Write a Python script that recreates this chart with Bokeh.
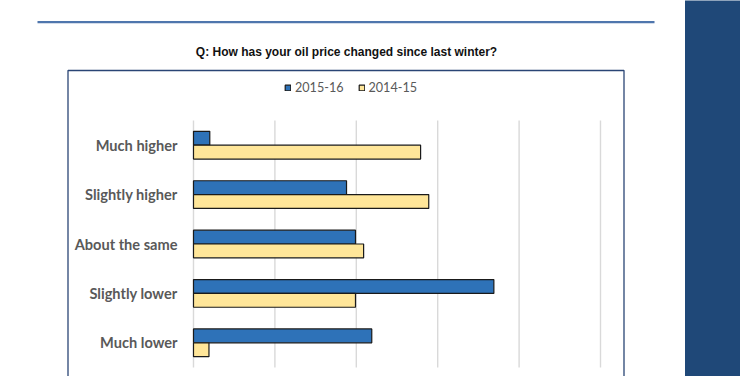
import numpy as np
from bokeh.plotting import figure
from bokeh.models import (Range1d, ColumnDataSource, Legend, LegendItem, Label, BoxAnnotation)
from bokeh.core.properties import value
from bokeh.embed import file_html
from bokeh.resources import INLINE

# ---- data ----
categories = ["Much higher", "Slightly higher", "About the same", "Slightly lower", "Much lower"]
series_2015_16 = [2.0, 18.8, 19.9, 36.9, 21.9]
series_2014_15 = [27.9, 28.9, 20.9, 19.9, 1.9]
grid_ticks = [0, 10, 20, 30, 40, 50]
series_names = ["2015-16", "2014-15"]
title_text = "Q: How has your oil price changed since last winter?"

# ---- layout (canvas pixels) ----
W, H = 740, 376
PL, PR, PT, PB = 193, 600, 120, 367   # plot area edges
n = len(categories)
px_per_val = (PR - PL) / (grid_ticks[-1] - grid_ticks[0])
px_per_row = (PB - PT) / n

x_start = grid_ticks[0] - PL / px_per_val
x_end = grid_ticks[-1] + (W - PR) / px_per_val
y_top = -0.5 - PT / px_per_row
y_bottom = -0.5 + (H - PT) / px_per_row

rows = np.arange(n, dtype=float)
bar_h = 0.28

src = ColumnDataSource(dict(cat=categories, row=rows,
                            ya=rows - bar_h / 2, yb=rows + bar_h / 2,
                            a=series_2015_16, b=series_2014_15))

p = figure(width=W, height=H, output_backend="svg", toolbar_location=None,
           x_range=Range1d(x_start, x_end), y_range=Range1d(y_bottom, y_top),
           x_axis_location=None, y_axis_location=None, min_border=0)
p.outline_line_color = None
p.background_fill_color = "white"
p.border_fill_color = "white"
p.grid.visible = False

def sx(cx):
    return cx

def sy(cy):
    return H - cy

# page decorations (behind everything)
p.add_layout(BoxAnnotation(left=sx(37), right=sx(654), top=sy(20.5), bottom=sy(22.8),
                           left_units="screen", right_units="screen",
                           top_units="screen", bottom_units="screen",
                           fill_color="#4f76ad", fill_alpha=1, line_color=None, level="underlay"))
p.add_layout(BoxAnnotation(left=sx(684.5), right=sx(760), top=sy(-20), bottom=sy(400),
                           left_units="screen", right_units="screen",
                           top_units="screen", bottom_units="screen",
                           fill_color="#1f4878", fill_alpha=1, line_color=None, level="underlay"))
p.add_layout(BoxAnnotation(left=sx(67.5), right=sx(623.5), top=sy(70), bottom=sy(400),
                           left_units="screen", right_units="screen",
                           top_units="screen", bottom_units="screen",
                           fill_alpha=0, line_color="#2a4575", line_alpha=1,
                           line_width=1.3, level="underlay"))

# vertical gridlines
p.segment(x0=grid_ticks, x1=grid_ticks, y0=[-0.5] * len(grid_ticks), y1=[n - 0.5] * len(grid_ticks),
          line_color="#d9d9d9", line_width=1.4)

r1 = p.hbar(y="ya", left=0, right="a", height=bar_h, source=src,
            fill_color="#2e72b8", line_color="#1a1a1a", line_width=1.2)
r2 = p.hbar(y="yb", left=0, right="b", height=bar_h, source=src,
            fill_color="#ffe699", line_color="#1a1a1a", line_width=1.2)

# category labels
p.text(x=0, y="row", text="cat", source=src, x_offset=-16,
       text_align="right", text_baseline="middle",
       text_font=value("Lato"), text_font_style="bold", text_font_size="14.6px",
       text_color="#595959")

legend = Legend(items=[LegendItem(label=series_names[0], renderers=[r1]),
                       LegendItem(label=series_names[1], renderers=[r2])],
                orientation="horizontal", location=(284, H - 95),
                glyph_width=7, glyph_height=7, label_height=14, label_standoff=4,
                spacing=14, padding=0, margin=0,
                label_text_font="Lato", label_text_font_size="12.6px",
                label_text_color="#595959",
                border_line_color=None, background_fill_alpha=0)
p.add_layout(legend, "center")

p.add_layout(Label(x=sx(346), y=sy(51.7), x_units="screen", y_units="screen",
                   text=title_text, text_align="center", text_baseline="middle",
                   text_font="Liberation Sans", text_font_style="bold",
                   text_font_size="12px", text_color="#111111"))

open("out.html", "w").write(file_html(p, INLINE))
